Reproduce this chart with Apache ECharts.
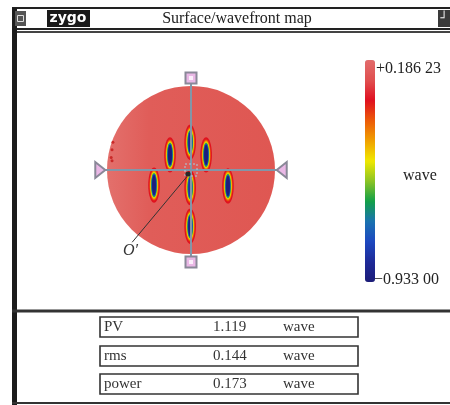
<!DOCTYPE html>
<html><head><meta charset="utf-8">
<script src="https://cdn.jsdelivr.net/npm/echarts/dist/echarts.min.js"></script>
<style>html,body{margin:0;padding:0;background:#fff}#c{width:450px;height:405px}</style>
</head><body><div id="c"></div>
<script>
// ---- data ----
const spotX = [-0.01, -0.25, 0.18, -0.44, 0.44, -0.01, -0.01];
const spotY = [0.33, 0.18, 0.18, -0.18, -0.19, -0.21, -0.67];
const spotDepth = [-0.86, -0.93, -0.92, -0.92, -0.92, -0.80, -0.90];
const edgeDotX = [-0.93, -0.94, -0.95, -0.94];
const edgeDotY = [0.33, 0.24, 0.15, 0.11];
const colorRange = [-0.93300, 0.18623];
const colorbarLabels = ['+0.186 23', '\u22120.933 00'];
const colorbarUnit = 'wave';
const statNames = ['PV', 'rms', 'power'];
const statValues = ['1.119', '0.144', '0.173'];
const statUnits = ['wave', 'wave', 'wave'];
const titleText = 'Surface/wavefront map';
const originLabel = 'O\u2032';

// ---- build ----
const ringEdgeValue = -0.02;
const ringSteps = 14;
const ringData = [];
spotX.forEach((x, i) => {
  for (let j = 0; j < ringSteps; j++) {
    const t = j / (ringSteps - 1);
    ringData.push([x, spotY[i], ringEdgeValue + (spotDepth[i] - ringEdgeValue) * t, t]);
  }
});

const serif = '"Liberation Serif", "DejaVu Serif", serif';
const chart = echarts.init(document.getElementById('c'), null, {renderer: 'canvas'});

function diskItem(params, api) {
  const c = api.coord([0, 0]);
  const r = api.size([1, 1])[0];
  return {
    type: 'circle', shape: {cx: c[0], cy: c[1], r: r},
    style: {fill: new echarts.graphic.LinearGradient(0, 0, 1, 0, [
      {offset: 0, color: '#e3706c'}, {offset: 0.25, color: '#e05d59'}, {offset: 1, color: '#df5752'}])}
  };
}
function spotItem(params, api) {
  const c = api.coord([api.value(0), api.value(1)]);
  const s = api.size([0.069, 0.21]);
  const t = api.value(3);
  const k2 = Math.sqrt(t);
  const rx = s[0] * (1 - 0.7 * k2), ry = s[1] * (1 - 0.45 * k2);
  const pts = [];
  for (let k = 0; k < 40; k++) {
    const a = k / 40 * Math.PI * 2;
    pts.push([c[0] + rx * Math.cos(a), c[1] + ry * Math.sin(a)]);
  }
  return {type: 'polygon', shape: {points: pts}, style: {fill: api.visual('color')}};
}
function overlayItem(params, api) {
  const C = api.coord([0, 0]);
  const L = api.coord([-1.02, 0]), R = api.coord([1.02, 0]);
  const T = api.coord([0, 1.095]), B = api.coord([0, -1.095]);
  const TL = api.coord([-1.08, 0]), TR = api.coord([1.08, 0]);
  const O1 = api.coord([-0.05, -0.08]), O2 = api.coord([-0.70, -0.86]), OL = api.coord([-0.72, -0.96]);
  const lineCol = '#8296a8', mk = '#8a8898', pink = '#eab8e6';
  const square = (p) => ({type: 'group', children: [
    {type: 'rect', shape: {x: p[0] - 5.5, y: p[1] - 5.5, width: 11, height: 11}, style: {fill: pink, stroke: mk, lineWidth: 2}},
    {type: 'rect', shape: {x: p[0] - 2, y: p[1] - 2, width: 4, height: 4}, style: {fill: '#fbeefa'}}
  ]});
  return {type: 'group', children: [
    {type: 'line', shape: {x1: L[0], y1: L[1], x2: R[0], y2: R[1]}, style: {stroke: lineCol, lineWidth: 2}},
    {type: 'line', shape: {x1: T[0], y1: T[1], x2: B[0], y2: B[1]}, style: {stroke: lineCol, lineWidth: 2}},
    {type: 'rect', shape: {x: C[0] - 6, y: C[1] - 6, width: 12, height: 12}, style: {fill: null, stroke: '#a8cde0', lineWidth: 1, lineDash: [2, 2]}},
    {type: 'line', shape: {x1: O1[0], y1: O1[1], x2: O2[0], y2: O2[1]}, style: {stroke: '#333', lineWidth: 1}},
    {type: 'circle', shape: {cx: C[0] - 3, cy: C[1] + 4, r: 2.6}, style: {fill: '#2a2a2a'}},
    {type: 'text', style: {x: OL[0], y: OL[1], text: originLabel, font: 'italic 16px ' + serif, fill: '#333', align: 'center', verticalAlign: 'middle'}},
    square(T), square(B),
    {type: 'polygon', shape: {points: [[TL[0] - 5, TL[1] - 8], [TL[0] - 5, TL[1] + 8], [TL[0] + 5, TL[1]]]}, style: {fill: pink, stroke: mk, lineWidth: 2}},
    {type: 'polygon', shape: {points: [[TR[0] + 5, TR[1] - 8], [TR[0] + 5, TR[1] + 8], [TR[0] - 5, TR[1]]]}, style: {fill: pink, stroke: mk, lineWidth: 2}}
  ]};
}

const graphics = [
  {type: 'rect', shape: {x: 13, y: 8, width: 440, height: 21}, style: {fill: '#fff', stroke: '#222', lineWidth: 2}},
  {type: 'line', shape: {x1: 12, y1: 32, x2: 450, y2: 32}, style: {stroke: '#444', lineWidth: 2}},
  {type: 'rect', shape: {x: 12, y: 8, width: 5, height: 397}, style: {fill: '#1c1c1c'}},
  {type: 'line', shape: {x1: 12, y1: 311, x2: 450, y2: 311}, style: {stroke: '#333', lineWidth: 3}},
  {type: 'line', shape: {x1: 12, y1: 403, x2: 450, y2: 403}, style: {stroke: '#333', lineWidth: 2}},
  {type: 'rect', shape: {x: 15, y: 11, width: 11, height: 15}, style: {fill: '#555'}},
  {type: 'rect', shape: {x: 17.5, y: 15.5, width: 6, height: 6}, style: {fill: null, stroke: '#ddd', lineWidth: 1}},
  {type: 'rect', shape: {x: 47, y: 10, width: 43, height: 17}, style: {fill: '#1a1a1a'}},
  {type: 'text', style: {x: 68, y: 18.5, text: 'zygo', font: 'bold 14px "DejaVu Sans", sans-serif', fill: '#fff', align: 'center', verticalAlign: 'middle'}},
  {type: 'text', style: {x: 237, y: 18.5, text: titleText, font: '16px ' + serif, fill: '#222', align: 'center', verticalAlign: 'middle'}},
  {type: 'rect', shape: {x: 438, y: 10, width: 12, height: 17}, style: {fill: '#3a3a3a'}},
  {type: 'text', style: {x: 444, y: 18.5, text: '\u2518', font: 'bold 12px "DejaVu Sans", sans-serif', fill: '#eee', align: 'center', verticalAlign: 'middle'}},
  {type: 'text', style: {x: 376, y: 69, text: colorbarLabels[0], font: '16px ' + serif, fill: '#222', verticalAlign: 'middle'}},
  {type: 'text', style: {x: 374, y: 280, text: colorbarLabels[1], font: '16px ' + serif, fill: '#222', verticalAlign: 'middle'}},
  {type: 'text', style: {x: 403, y: 176, text: colorbarUnit, font: '16px ' + serif, fill: '#222', verticalAlign: 'middle'}}
];
const rowTops = [317, 346, 374];
statNames.forEach((n, i) => {
  const y = rowTops[i];
  graphics.push({type: 'rect', shape: {x: 100, y: y, width: 258, height: 20}, style: {fill: null, stroke: '#333', lineWidth: 1.6}});
  graphics.push({type: 'text', style: {x: 104, y: y + 10.5, text: n, font: '15px ' + serif, fill: '#333', verticalAlign: 'middle'}});
  graphics.push({type: 'text', style: {x: 213, y: y + 10.5, text: statValues[i], font: '15px ' + serif, fill: '#333', verticalAlign: 'middle'}});
  graphics.push({type: 'text', style: {x: 283, y: y + 10.5, text: statUnits[i], font: '15px ' + serif, fill: '#333', verticalAlign: 'middle'}});
});

chart.setOption({
  animation: false,
  backgroundColor: '#fff',
  grid: {left: 107, top: 86, width: 168, height: 168},
  xAxis: {type: 'value', min: -1, max: 1, show: false},
  yAxis: {type: 'value', min: -1, max: 1, show: false},
  visualMap: {
    type: 'continuous', min: colorRange[0], max: colorRange[1], dimension: 2, seriesIndex: 2,
    orient: 'vertical', left: 365, top: 60, itemWidth: 10, itemHeight: 222, padding: 0,
    calculable: false, showLabel: false, text: null, hoverLink: false,
    inRange: {color: ['#1c1c78', '#1e2a98', '#1d48c0', '#1a72b0', '#12a048', '#8cc424', '#f0e800', '#f0a000', '#ec5a08', '#e01020', '#e05050', '#e26c6c']}
  },
  series: [
    {type: 'custom', renderItem: diskItem, data: [[0, 0]], silent: true, z: 1},
    {type: 'scatter', data: edgeDotX.map((x, i) => [x, edgeDotY[i]]), symbolSize: 3, itemStyle: {color: '#c41818'}, silent: true, z: 2},
    {type: 'custom', renderItem: spotItem, data: ringData, dimensions: ['x', 'y', 'v', 't'], encode: {x: 0, y: 1}, silent: true, z: 3},
    {type: 'custom', renderItem: overlayItem, data: [[0, 0]], silent: true, z: 4}
  ],
  graphic: graphics
});
</script></body></html>
